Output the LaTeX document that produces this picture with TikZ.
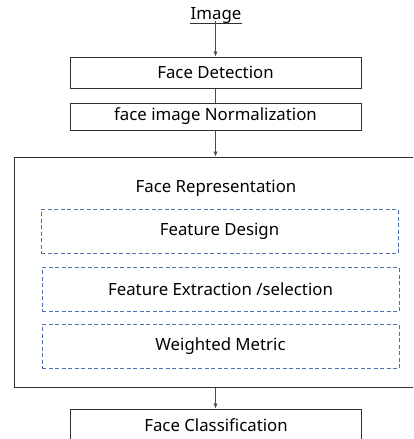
\documentclass[tikz,border=0pt]{standalone}
\usepackage{fontspec}
\setmainfont{Noto Sans}
\usetikzlibrary{arrows.meta}

\definecolor{dashblue}{HTML}{4F6FAE}
\definecolor{boxgray}{HTML}{303030}

\begin{document}
\begin{tikzpicture}[x=1pt,y=-1pt,font=\fontsize{16.8}{19}\selectfont]
                \tikzset{stagebox/.style={draw=boxgray,line width=1pt,inner sep=0pt},
                    subbox/.style={draw=dashblue,line width=0.9pt,dash pattern=on 4pt off 2.5pt,inner sep=0pt,minimum width=357pt,minimum height=44pt},
                    link/.style={black!70,line width=0.9pt}}
                \useasboundingbox (0,0) rectangle (413,439);
                \clip (0,0) rectangle (413,439);

                \node[inner sep=0pt] (img) at (216,16) {Image};
                \draw[boxgray,line width=0.8pt] (img.south west) ++(0,-1) coordinate (ulA) -- (img.south east |- ulA);

                \node[stagebox,minimum width=291pt,minimum height=31pt] (det) at (215.5,72.5) {Face Detection};
                \node[stagebox,minimum width=291pt,minimum height=27pt] (norm) at (215.5,116.5) {face image Normalization};

                \node[stagebox,minimum width=420pt,minimum height=230pt] (rep) at (224,272) {};
                \node (reptxt) at (216,188) {Face Representation};

                \node[subbox] (design) at (219.5,231.5) {Feature Design};
                \node[subbox] (extr) at (220.5,289.5) {Feature Extraction /selection};
                \node[subbox] (metric) at (220.5,346.5) {Weighted Metric};

                \node[stagebox,minimum width=291pt,minimum height=60pt] (cls) at (215.5,439) {};
                \node (clstxt) at (216,425) {Face Classification};

                \draw[link,arrows={-Latex[length=5pt,width=4.5pt]}] (img.south -| det.north) ++(0,-3) -- (det.north);
                \draw[link] (det.south) -- (norm.north);
                \draw[link,arrows={-Latex[length=5pt,width=4.5pt]}] (norm.south) -- (norm.south |- rep.north);
                \draw[link,arrows={-Latex[length=5pt,width=4.5pt]}] (rep.south -| cls.north) -- (cls.north);
            \end{tikzpicture}
\end{document}
